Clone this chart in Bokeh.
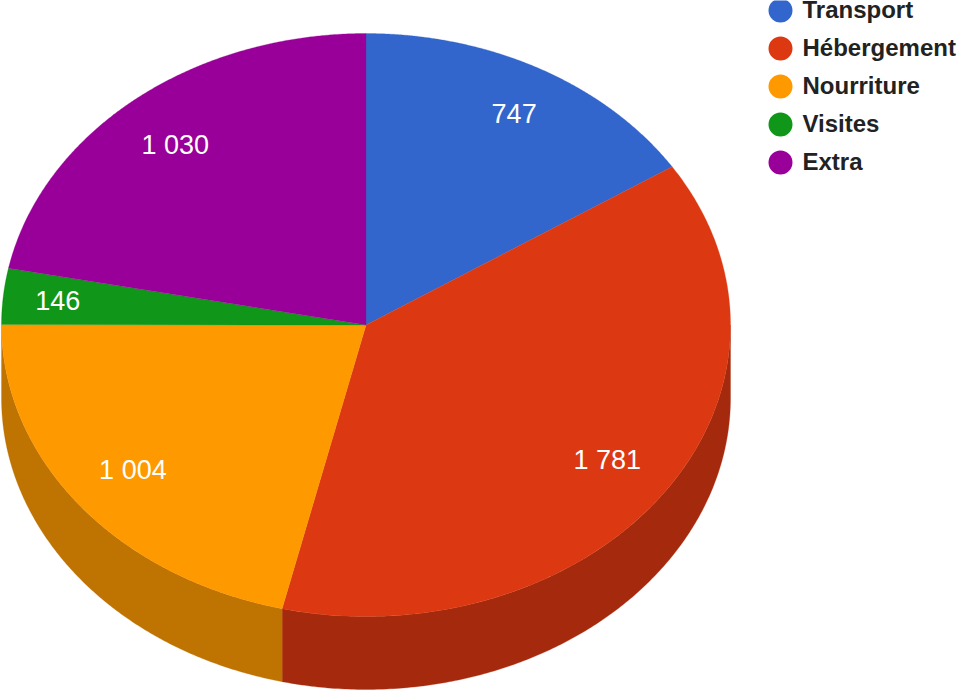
import numpy as np
from bokeh.core.properties import value
from bokeh.embed import file_html
from bokeh.plotting import figure
from bokeh.resources import INLINE

categories = ["Transport", "Hébergement", "Nourriture", "Visites", "Extra"]
amounts = [747, 1781, 1004, 146, 1030]
top_colors = ["#3366CC", "#DC3912", "#FF9900", "#109618", "#990099"]
wall_colors = ["#264C99", "#A52A0D", "#BF7300", "#0C7012", "#720072"]

W, H = 971, 692
CX, CY, RX, RY, DEPTH = 365.5, 324.5, 364.5, 291.5, 73
LABEL_FX = [0.85, 0.81, 0.815, 0.85, 0.825]
LABEL_FY = [0.825, 0.805, 0.805, 0.84, 0.80]


def ex(t):
    return CX + RX * np.sin(t)


def ey(t, drop=0):
    return CY - RY * np.cos(t) + drop


p = figure(width=W, height=H, x_range=(0, W), y_range=(H, 0), output_backend="svg",
           toolbar_location=None, min_border=0, outline_line_color=None,
           background_fill_color="white", border_fill_color="white")
p.axis.visible = False
p.grid.visible = False

edges = np.concatenate([[0], np.cumsum(amounts)]) / np.sum(amounts) * 2 * np.pi

for i in range(len(amounts)):
    a, b = max(edges[i], np.pi / 2), min(edges[i + 1], 3 * np.pi / 2)
    if b > a:
        t = np.linspace(a, b, 200)
        xs = np.concatenate([ex(t), ex(t[::-1])])
        ys = np.concatenate([ey(t), ey(t[::-1], DEPTH)])
        p.patch(xs, ys, fill_color=wall_colors[i], line_color=wall_colors[i], line_width=0.3)

for i in range(len(amounts)):
    t = np.linspace(edges[i], edges[i + 1], 300)
    xs = np.concatenate([[CX], ex(t)])
    ys = np.concatenate([[CY], ey(t)])
    p.patch(xs, ys, fill_color=top_colors[i], line_color=top_colors[i], line_width=0.3)

mids = (edges[:-1] + edges[1:]) / 2
p.text(x=CX + RX * np.array(LABEL_FX) * np.sin(mids),
       y=CY - RY * np.array(LABEL_FY) * np.cos(mids),
       text=[f"{v:,}".replace(",", " ") for v in amounts],
       text_color="white", text_font=value("Liberation Sans"), text_font_size="27px",
       text_align="center", text_baseline="middle")

ly = 10 + 38 * np.arange(len(categories))
p.scatter(x=[780] * len(categories), y=ly, size=24, marker="circle",
          fill_color=top_colors, line_color=None)
p.text(x=[802] * len(categories), y=ly - 1, text=categories, text_color="#222222",
       text_font=value("Liberation Sans"), text_font_style="bold", text_font_size="24px",
       text_align="left", text_baseline="middle")

open("out.html", "w").write(file_html(p, INLINE))
